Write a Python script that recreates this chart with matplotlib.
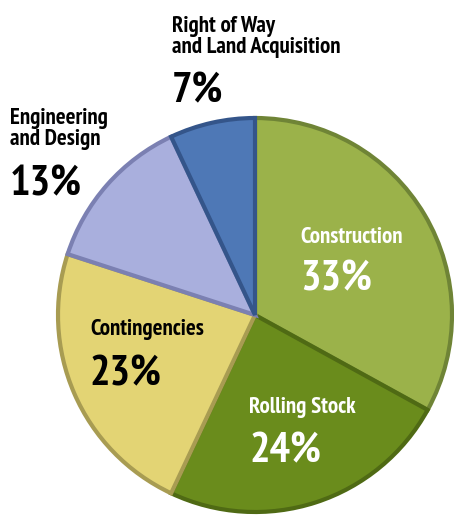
import matplotlib.pyplot as plt

# slice data, clockwise from 12 o'clock
names = [['Construction'], ['Rolling Stock'], ['Contingencies'],
         ['Engineering', 'and Design'], ['Right of Way', 'and Land Acquisition']]
shares = [33, 24, 23, 13, 7]
colors = ['#9bb24a', '#6a8c1c', '#e3d474', '#a9afdd', '#4e78b6']
edges = ['#6f8436', '#4f6a14', '#a89c52', '#7b80b2', '#34558a']

# label placement in image pixels (x left, baseline of last name line, baseline of percent)
label_x = [300, 249, 90, 10, 172]
name_y = [243, 413, 335, 145, 53]
pct_y = [290, 462, 385, 195, 102]
text_col = ['white', 'white', 'black', 'black', 'black']

W, H = 454, 519
fig = plt.figure(figsize=(W / 100, H / 100), dpi=100)
ax = fig.add_axes([0, 0, 1, 1])

wedges, _ = ax.pie(shares, colors=colors, startangle=90, counterclock=False,
                   center=(255, H - 315), radius=197, frame=True,
                   wedgeprops=dict(linewidth=3))
for w, ec in zip(wedges, edges):
    w.set_edgecolor(ec)
ax.set_xlim(0, W)
ax.set_ylim(0, H)
ax.set_aspect('equal')
ax.axis('off')

fam = ['PT Sans Narrow', 'DejaVu Sans']
for lines, v, x, ny, py, c in zip(names, shares, label_x, name_y, pct_y, text_col):
    for k, line in enumerate(reversed(lines)):
        ax.text(x, H - ny + k * 21, line, fontsize=16.5, fontweight='bold', family=fam,
                color=c, ha='left', va='baseline')
    ax.text(x, H - py, f'{v}%', fontsize=31, fontweight='bold', family=fam, color=c,
            ha='left', va='baseline')

fig.savefig('out.png', dpi=100)
